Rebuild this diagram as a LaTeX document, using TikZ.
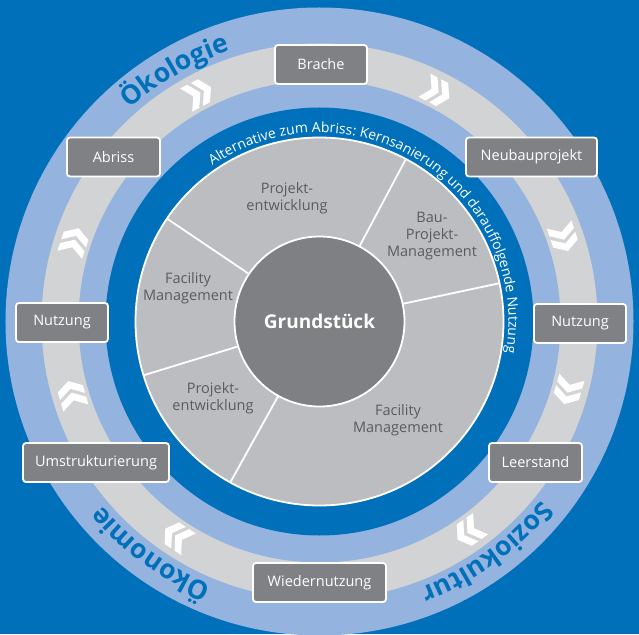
\documentclass[tikz,border=0pt]{standalone}
\usepackage{fontspec}
\setmainfont{Open Sans}
\usetikzlibrary{decorations.text}
\definecolor{bgblue}{HTML}{0070BA}
\definecolor{lblue}{HTML}{94B4DF}
\definecolor{lgray}{HTML}{D2D3D5}
\definecolor{sgray}{HTML}{BCBDC0}
\definecolor{cgray}{HTML}{7F8083}
\definecolor{bgray}{HTML}{808184}
\definecolor{tgray}{HTML}{5A5B5E}
\begin{document}
\begin{tikzpicture}[x=1pt,y=1pt,
  box/.style={draw=white, line width=1.8pt, fill=bgray, rounded corners=3pt,
    minimum height=39pt, inner sep=0pt, text=white,
    font=\fontsize{14.5}{17}\selectfont},
  sectortext/.style={align=center, text=tgray, inner sep=0pt,
    font=\fontsize{14.5}{17}\selectfont},
  chev/.pic={
    \fill[white] (-16,13) -- (-8,13) -- (0,0) -- (-8,-13) -- (-16,-13) -- (-8,0) -- cycle;
    \fill[white] (-4,13) -- (4,13) -- (12,0) -- (4,-13) -- (-4,-13) -- (4,0) -- cycle;
  }]
\clip (-319.5,-312.5) rectangle (319.5,321.5);
\fill[bgblue] (-319.5,-312.5) rectangle (319.5,321.5);
% rings
\fill[lblue] (0,0) circle[radius=314];
\fill[lgray] (0,0) circle[radius=278];
\fill[lblue] (0,0) circle[radius=241];
\fill[bgblue] (0,0) circle[radius=214];
\fill[sgray] (0,0) circle[radius=184];
\foreach \a in {12,62,146,197,241}
  \draw[white, line width=1.8pt] (\a:85) -- (\a:184);
\draw[white, line width=1.8pt] (0,0) circle[radius=184];
\node[circle, fill=cgray, draw=white, line width=1.8pt, minimum size=170pt,
  inner sep=0pt, text=white, font=\bfseries\fontsize{19}{22}\selectfont]
  (grund) at (0,0) {Grundstück};
% sector texts
\node[sectortext] (s1) at (-32.5,123.5) {Projekt-\\entwicklung};
\node[sectortext] (s2) at (112.5,85.5) {Bau-\\Projekt-\\Management};
\node[sectortext] (s3) at (-131.5,33.5) {Facility\\Management};
\node[sectortext] (s4) at (-106.5,-76.5) {Projekt-\\entwicklung};
\node[sectortext] (s5) at (78.5,-98.5) {Facility\\Management};
% inner ring text
\path[decorate, decoration={text along path, text color=white, text align=center,
  text={|\fontsize{14}{16}\selectfont|Alternative zum Abriss: Kernsanierung und darauffolgende Nutzung}}]
  (160:189) arc[start angle=160, end angle=-45, radius=189];
% outer ring texts
\path[decorate, decoration={text along path, text color=bgblue, text align=center,
  text={|\bfseries\fontsize{26.5}{30}\selectfont|Ökologie}}]
  (155:285) arc[start angle=155, end angle=85, radius=285];
\path[decorate, decoration={text along path, text color=bgblue, text align=center,
  text={|\bfseries\fontsize{26.5}{30}\selectfont|Ökonomie}}]
  (269:285) arc[start angle=269, end angle=199, radius=285];
\path[decorate, decoration={text along path, text color=bgblue, text align=center,
  text={|\bfseries\fontsize{26.5}{30}\selectfont|Soziokultur}}]
  (-14:285) arc[start angle=-14, end angle=-94, radius=285];
% chevrons (clockwise flow)
\foreach \a in {117.5,62.5,18.5,-16,-55,-124,-164,161.5}
  \pic[rotate=\a-90] at (\a:258) {chev};
% boxes
\node[box, minimum width=92pt] (brache) at (1.5,257) {Brache};
\node[box, minimum width=131pt] (neubau) at (212,164.5) {Neubauprojekt};
\node[box, minimum width=93pt] (abriss) at (-206,164.5) {Abriss};
\node[box, minimum width=92pt] (nutzl) at (-257.5,-1) {Nutzung};
\node[box, minimum width=92pt] (nutzr) at (260.5,-2) {Nutzung};
\node[box, minimum width=146pt] (umstr) at (-223.5,-141) {Umstrukturierung};
\node[box, minimum width=93pt] (leer) at (216,-141) {Leerstand};
\node[box, minimum width=133pt] (wieder) at (0,-261) {Wiedernutzung};
\end{tikzpicture}
\end{document}
